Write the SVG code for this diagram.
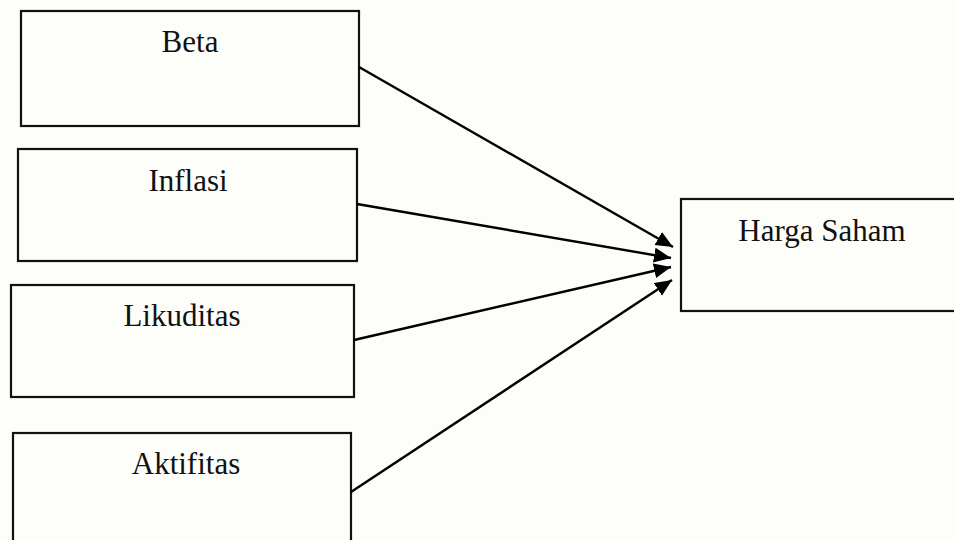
<svg xmlns="http://www.w3.org/2000/svg" width="954" height="540" viewBox="0 0 954 540">
<style>
.box{fill:none;stroke:#111;stroke-width:2.2}
.lbl{font-family:"Liberation Serif","Times New Roman",serif;font-size:31px;fill:#111;text-anchor:middle}
.edge{stroke:#000;stroke-width:2.4;fill:none;marker-end:url(#ah)}
</style>
<defs>
<marker id="ah" markerUnits="userSpaceOnUse" markerWidth="20" markerHeight="16" refX="17" refY="7.5" orient="auto">
<path d="M0,0 L17,7.5 L0,15 Z" fill="#000"/>
</marker>
</defs>
<rect width="954" height="540" fill="#fdfdf9"/>
<g id="beta"><rect class="box" x="21" y="11" width="338" height="115"/><text class="lbl" x="190" y="52">Beta</text></g>
<g id="inflasi"><rect class="box" x="18" y="149" width="339" height="112"/><text class="lbl" x="188" y="191">Inflasi</text></g>
<g id="likuditas"><rect class="box" x="11" y="285" width="343" height="112"/><text class="lbl" x="182" y="326">Likuditas</text></g>
<g id="aktifitas"><rect class="box" x="13" y="433" width="338" height="120"/><text class="lbl" x="186" y="474">Aktifitas</text></g>
<g id="harga"><rect class="box" x="681" y="199" width="290" height="112"/><text class="lbl" x="822" y="241">Harga Saham</text></g>
<g id="connectors">
<line class="edge" x1="359" y1="67" x2="673" y2="247"/>
<line class="edge" x1="357" y1="204" x2="671" y2="258"/>
<line class="edge" x1="354" y1="340" x2="671" y2="267"/>
<line class="edge" x1="351" y1="492" x2="672" y2="280"/>
</g>
</svg>
